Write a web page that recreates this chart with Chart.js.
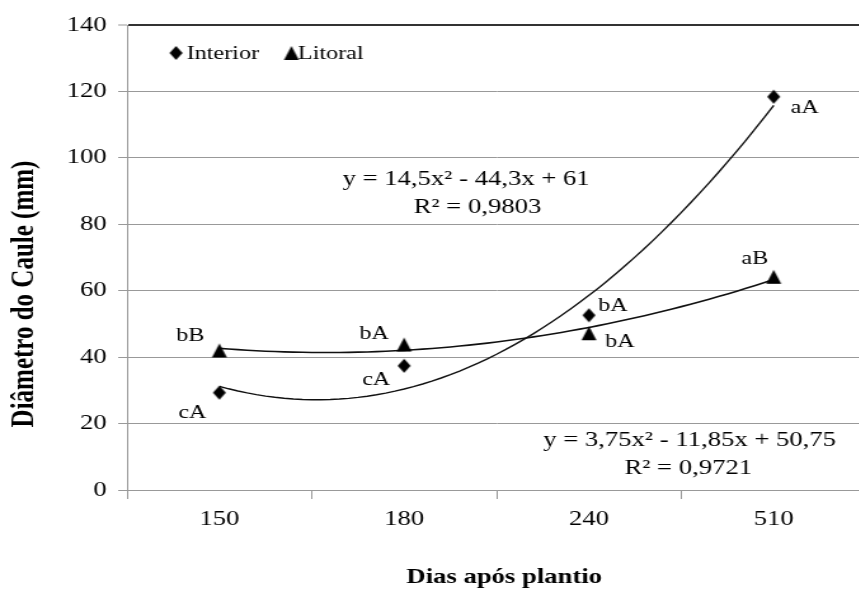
<!DOCTYPE html>
<html>
<head>
<meta charset="utf-8">
<script src="https://cdn.jsdelivr.net/npm/chart.js@4/dist/chart.umd.min.js"></script>
<style>
  html, body { margin: 0; padding: 0; overflow: hidden; background: #fff; width: 859px; height: 591px; }
  /* the whole figure is drawn narrow and widened, like the wide Times text of the original */
  #wrap { width: 690px; height: 591px; transform: scaleX(1.27); transform-origin: 0 0; }
</style>
</head>
<body>
<div id="wrap"><canvas id="grafico"></canvas></div>
<script>
var dias = ['150', '180', '240', '510'];
var interior = [29.3, 37.4, 52.6, 118.4];
var litoral = [42.0, 43.8, 47.2, 64.2];
var letrasInterior = ['cA', 'cA', 'bA', 'aA'];
var letrasLitoral = ['bB', 'bA', 'bA', 'aB'];
// coeficientes das equações y = a*x^2 + b*x + c (x = 1..4)
var coefInterior = [14.5, -44.3, 61];
var coefLitoral = [3.75, -11.85, 50.75];
var eqInterior = ['y = 14,5x\u00b2 - 44,3x + 61', 'R\u00b2 = 0,9803'];
var eqLitoral = ['y = 3,75x\u00b2 - 11,85x + 50,75', 'R\u00b2 = 0,9721'];
var yTicks = [0, 20, 40, 60, 80, 100, 120, 140];

var SX = 1.27;
var SERIF = '"Liberation Serif", "Times New Roman", serif';

function pontos(vals) {
  return vals.map(function(v, i) { return {x: i + 1, y: v}; });
}

// curva da equação ajustada
function tendencia(coef) {
  var pts = [];
  for (var k = 0; k <= 60; k++) {
    var x = 1 + k * 0.05;
    pts.push({x: x, y: coef[0] * x * x + coef[1] * x + coef[2]});
  }
  return pts;
}

// marcador desenhado estreito para ficar com a forma certa depois do alargamento
function marcador(tipo) {
  var w = tipo === 'losango' ? 13 : 15, h = 14;
  var c = document.createElement('canvas');
  c.width = Math.round(w / SX) + 2;
  c.height = h + 2;
  var g = c.getContext('2d');
  var cx = c.width / 2, cy = c.height / 2, hw = w / SX / 2, hh = h / 2;
  g.fillStyle = '#000';
  g.beginPath();
  if (tipo === 'losango') {
    g.moveTo(cx, cy - hh);
    g.lineTo(cx + hw, cy);
    g.lineTo(cx, cy + hh);
    g.lineTo(cx - hw, cy);
  } else {
    g.moveTo(cx, cy - hh);
    g.lineTo(cx + hw, cy + hh);
    g.lineTo(cx - hw, cy + hh);
  }
  g.closePath();
  g.fill();
  return c;
}
var losango = marcador('losango');
var triangulo = marcador('triangulo');

var xTicks = [];
for (var i = 0; i < dias.length; i++) {
  xTicks.push(i + 0.5, i + 1);
}
xTicks.push(dias.length + 0.5);

var textos = {
  id: 'textos',
  afterDatasetsDraw: function(chart) {
    var ctx = chart.ctx;
    ctx.save();
    ctx.fillStyle = '#000';
    ctx.textAlign = 'center';
    ctx.textBaseline = 'middle';

    // letras das médias
    ctx.font = '19px ' + SERIF;
    var offI = [[-27, 20], [-28, 14], [24, -9], [31, 11]];
    var offL = [[-29, -14], [-30, -11], [31, 9], [-19, -18]];
    chart.getDatasetMeta(0).data.forEach(function(p, j) {
      ctx.fillText(letrasInterior[j], p.x + offI[j][0] / SX, p.y + offI[j][1]);
    });
    chart.getDatasetMeta(1).data.forEach(function(p, j) {
      ctx.fillText(letrasLitoral[j], p.x + offL[j][0] / SX, p.y + offL[j][1]);
    });

    // equações
    ctx.font = '21px ' + SERIF;
    ctx.fillText(eqInterior[0], 367, 179);
    ctx.fillText(eqInterior[1], 376, 207);
    ctx.fillText(eqLitoral[0], 543, 440);
    ctx.fillText(eqLitoral[1], 542, 468);

    // legenda
    ctx.textAlign = 'left';
    ctx.font = '19px ' + SERIF;
    ctx.drawImage(losango, 138.6 - losango.width / 2, 53 - losango.height / 2);
    ctx.fillText('Interior', 147, 54);
    ctx.drawImage(triangulo, 229.5 - triangulo.width / 2, 53 - triangulo.height / 2);
    ctx.fillText('Litoral', 234.6, 54);

    // títulos dos eixos
    ctx.textAlign = 'center';
    ctx.font = 'bold 21px ' + SERIF;
    ctx.fillText('Dias após plantio', 397, 578);
    ctx.translate(20, 294);
    ctx.rotate(-Math.PI / 2);
    ctx.font = 'bold 25px ' + SERIF;
    ctx.fillText('Diâmetro do Caule (mm)', 0, 0);
    ctx.restore();
  }
};

var ctx = document.getElementById('grafico').getContext('2d');
new Chart(ctx, {
  type: 'scatter',
  data: {
    datasets: [{
      label: 'Interior',
      data: pontos(interior),
      pointStyle: losango,
      pointRadius: 6,
      showLine: false
    }, {
      label: 'Litoral',
      data: pontos(litoral),
      pointStyle: triangulo,
      pointRadius: 6,
      showLine: false
    }, {
      label: 'Interior (ajuste)',
      data: tendencia(coefInterior),
      showLine: true,
      borderColor: '#111',
      borderWidth: 1.4,
      pointRadius: 0
    }, {
      label: 'Litoral (ajuste)',
      data: tendencia(coefLitoral),
      showLine: true,
      borderColor: '#111',
      borderWidth: 1.6,
      pointRadius: 0
    }]
  },
  options: {
    responsive: true,
    maintainAspectRatio: false,
    animation: false,
    layout: { padding: { top: 25, right: 4, left: 0, bottom: 0 } },
    plugins: { legend: { display: false }, tooltip: { enabled: false } },
    scales: {
      x: {
        type: 'linear',
        min: 0.5,
        max: dias.length + 0.5,
        afterBuildTicks: function(s) { s.ticks = xTicks.map(function(v) { return {value: v}; }); },
        afterFit: function(s) { s.height = 101; },
        grid: {
          drawOnChartArea: false,
          tickLength: 9,
          tickColor: function(c) { return c.tick && c.tick.value % 1 ? '#999' : 'rgba(0,0,0,0)'; }
        },
        border: { color: '#999' },
        ticks: {
          autoSkip: false,
          maxRotation: 0,
          padding: 8,
          color: '#000',
          font: { family: SERIF, size: 21 },
          callback: function(v) { return v % 1 === 0 ? dias[v - 1] : ''; }
        }
      },
      y: {
        min: 0,
        max: 140,
        afterBuildTicks: function(s) { s.ticks = yTicks.map(function(v) { return {value: v}; }); },
        afterFit: function(s) { s.width = 100; },
        grid: {
          color: function(c) { return c.tick && c.tick.value === 140 ? '#333' : '#999'; },
          lineWidth: function(c) { return c.tick && c.tick.value === 140 ? 2 : 1; },
          tickLength: 7,
          tickColor: '#999',
          tickWidth: 1
        },
        border: { color: '#999' },
        ticks: {
          padding: 9,
          color: '#000',
          font: { family: SERIF, size: 21 }
        }
      }
    }
  },
  plugins: [textos]
});
</script>
</body>
</html>
